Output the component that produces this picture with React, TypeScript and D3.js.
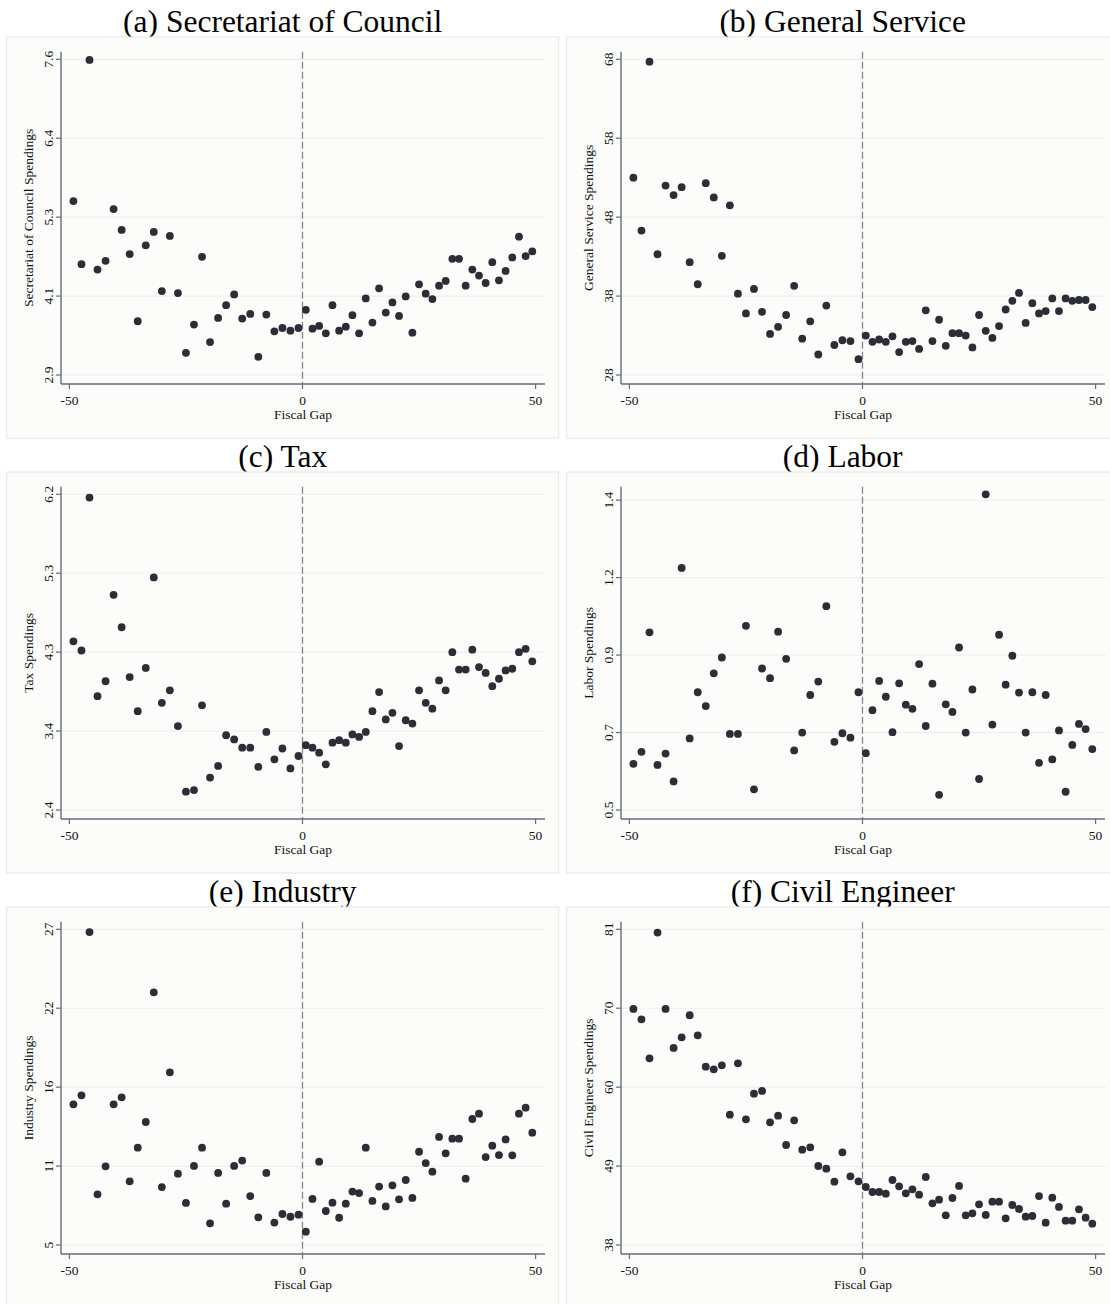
import React from "react";
import * as d3 from "d3";

// Bin centres of the fiscal gap (29 bins below the threshold, 35 above)
const binsBelow = [
  -49.14, -47.41, -45.69, -43.97, -42.24, -40.52, -38.79, -37.07, -35.34, -33.62,
  -31.9, -30.17, -28.45, -26.72, -25.0, -23.28, -21.55, -19.83, -18.1, -16.38,
  -14.66, -12.93, -11.21, -9.48, -7.76, -6.03, -4.31, -2.59, -0.86,
];
const binsAbove = [
  0.71, 2.14, 3.57, 5.0, 6.43, 7.86, 9.29, 10.71, 12.14, 13.57, 15.0, 16.43,
  17.86, 19.29, 20.71, 22.14, 23.57, 25.0, 26.43, 27.86, 29.29, 30.71, 32.14,
  33.57, 35.0, 36.43, 37.86, 39.29, 40.71, 42.14, 43.57, 45.0, 46.43, 47.86, 49.29,
];
const fiscalGap = [...binsBelow, ...binsAbove];

// Mean spendings per bin
const secretariatSpend = [
  5.49, 4.55, 7.59, 4.47, 4.6, 5.37, 5.06, 4.7, 3.7, 4.83, 5.03, 4.15, 4.97, 4.12, 3.23,
  3.65, 4.66, 3.39, 3.75, 3.94, 4.1, 3.74, 3.81, 3.17, 3.8, 3.55, 3.6, 3.56, 3.6,
  3.87, 3.59, 3.63, 3.52, 3.94, 3.56, 3.62, 3.79, 3.52, 4.04, 3.68, 4.19, 3.83, 3.98,
  3.78, 4.07, 3.53, 4.25, 4.11, 4.03, 4.23, 4.3, 4.63, 4.63, 4.23, 4.47, 4.38, 4.27,
  4.58, 4.31, 4.45, 4.65, 4.96, 4.67, 4.74,
];
const generalServiceSpend = [
  53.0, 46.3, 67.7, 43.3, 52.0, 50.8, 51.8, 42.3, 39.5, 52.3, 50.5, 43.1, 49.5, 38.3,
  35.8, 38.9, 36.0, 33.2, 34.1, 35.6, 39.3, 32.6, 34.8, 30.6, 36.8, 31.8, 32.4, 32.3, 30.0,
  33.0, 32.2, 32.5, 32.2, 32.9, 30.9, 32.2, 32.3, 31.3, 36.2, 32.3, 35.0, 31.7, 33.3,
  33.3, 33.0, 31.5, 35.6, 33.6, 32.7, 34.2, 36.3, 37.4, 38.4, 34.6, 37.1, 35.8, 36.1,
  37.7, 36.1, 37.7, 37.4, 37.5, 37.5, 36.6,
];
const taxSpend = [
  4.43, 4.32, 6.16, 3.77, 3.95, 4.99, 4.6, 4.0, 3.59, 4.11, 5.2, 3.69, 3.84, 3.41, 2.62,
  2.64, 3.66, 2.79, 2.93, 3.3, 3.25, 3.15, 3.15, 2.92, 3.34, 3.01, 3.14, 2.9, 3.05,
  3.18, 3.15, 3.09, 2.95, 3.21, 3.24, 3.21, 3.31, 3.28, 3.34, 3.59, 3.82, 3.49, 3.57,
  3.17, 3.48, 3.44, 3.84, 3.69, 3.62, 3.96, 3.84, 4.3, 4.09, 4.09, 4.33, 4.12, 4.05,
  3.89, 3.98, 4.08, 4.1, 4.3, 4.34, 4.19,
];
const laborSpend = [
  0.634, 0.669, 1.016, 0.631, 0.664, 0.583, 1.203, 0.708, 0.842, 0.802, 0.897, 0.943,
  0.721, 0.721, 1.035, 0.56, 0.911, 0.883, 1.018, 0.939, 0.673, 0.725, 0.834, 0.873,
  1.092, 0.698, 0.723, 0.71, 0.842,
  0.665, 0.79, 0.875, 0.829, 0.726, 0.868, 0.806, 0.794, 0.924, 0.744, 0.867, 0.544,
  0.807, 0.785, 0.972, 0.725, 0.85, 0.59, 1.417, 0.748, 1.009, 0.864, 0.948, 0.841,
  0.725, 0.842, 0.637, 0.834, 0.647, 0.731, 0.553, 0.689, 0.75, 0.735, 0.677,
];
const industrySpend = [
  14.8, 15.43, 26.81, 8.53, 10.48, 14.8, 15.29, 9.44, 11.78, 13.57, 22.61, 9.04, 17.03,
  9.97, 7.93, 10.51, 11.78, 6.51, 10.02, 7.88, 10.51, 10.88, 8.41, 6.93, 10.02, 6.56,
  7.16, 6.97, 7.11,
  5.93, 8.21, 10.81, 7.37, 7.95, 6.9, 7.88, 8.72, 8.62, 11.78, 8.07, 9.07, 7.69, 9.16,
  8.18, 9.53, 8.28, 11.5, 10.71, 10.11, 12.53, 11.39, 12.41, 12.41, 9.62, 13.78, 14.15,
  11.13, 11.92, 11.27, 12.36, 11.25, 14.15, 14.57, 12.83,
];
const civilEngineerSpend = [
  70.15, 68.74, 63.43, 80.55, 70.15, 64.84, 66.29, 69.29, 66.56, 62.29, 61.93, 62.47,
  55.75, 62.75, 55.12, 58.61, 58.98, 54.71, 55.62, 51.62, 54.98, 50.99, 51.3, 48.76,
  48.4, 46.63, 50.62, 47.35, 46.67,
  45.9, 45.22, 45.22, 44.99, 46.85, 45.99, 45.04, 45.58, 44.86, 47.26, 43.68, 44.18,
  42.04, 44.4, 46.04, 42.04, 42.31, 43.54, 42.09, 43.9, 43.9, 41.63, 43.45, 42.9,
  41.86, 41.95, 44.67, 41.04, 44.45, 43.18, 41.31, 41.31, 42.86, 41.72, 40.91,
];

// Axis ticks
const xTickValues = [-50, 0, 50];
const xTickLabels = ["-50", "0", "50"];

const secretariatTicks = [2.9, 4.075, 5.25, 6.425, 7.6];
const secretariatTickLabels = ["2.9", "4.1", "5.3", "6.4", "7.6"];
const generalServiceTicks = [28, 38, 48, 58, 68];
const generalServiceTickLabels = ["28", "38", "48", "58", "68"];
const taxTicks = [2.4, 3.35, 4.3, 5.25, 6.2];
const taxTickLabels = ["2.4", "3.4", "4.3", "5.3", "6.2"];
const laborTicks = [0.5, 0.725, 0.95, 1.175, 1.4];
const laborTickLabels = ["0.5", "0.7", "0.9", "1.2", "1.4"];
const industryTicks = [5, 10.5, 16, 21.5, 27];
const industryTickLabels = ["5", "11", "16", "22", "27"];
const civilEngineerTicks = [38, 48.75, 59.5, 70.25, 81];
const civilEngineerTickLabels = ["38", "49", "60", "70", "81"];

const titles = [
  "(a) Secretariat of Council",
  "(b) General Service",
  "(c) Tax",
  "(d) Labor",
  "(e) Industry",
  "(f) Civil Engineer",
];
const yTitles = [
  "Secretariat of Council Spendings",
  "General Service Spendings",
  "Tax Spendings",
  "Labor Spendings",
  "Industry Spendings",
  "Civil Engineer Spendings",
];
const xTitle = "Fiscal Gap";

const panels = [
  { values: secretariatSpend, ticks: secretariatTicks, labels: secretariatTickLabels },
  { values: generalServiceSpend, ticks: generalServiceTicks, labels: generalServiceTickLabels },
  { values: taxSpend, ticks: taxTicks, labels: taxTickLabels },
  { values: laborSpend, ticks: laborTicks, labels: laborTickLabels },
  { values: industrySpend, ticks: industryTicks, labels: industryTickLabels },
  { values: civilEngineerSpend, ticks: civilEngineerTicks, labels: civilEngineerTickLabels },
];

const FONT = "'Liberation Serif', 'Times New Roman', Times, serif";
const AXIS = "#676d7c";
const GRID = "#efefef";
const DOT = "#2b2e36";

// Panel geometry (relative to panel origin)
const COL_STEP = 560;
const ROW_STEP = 435;
const FRAME = { x0: 6.7, x1: 558.7, y0: 37, y1: 438 };
const PLOT = { left: 61, right: 545, top: 51.7, bottom: 384 };
const X_RANGE: [number, number] = [69.4, 535.6];
const Y_RANGE: [number, number] = [375, 59.3];

function Panel({ idx }: { idx: number }) {
  const p = panels[idx];
  const ox = (idx % 2) * COL_STEP;
  const oy = Math.floor(idx / 2) * ROW_STEP;
  const x = d3.scaleLinear().domain([-50, 50]).range(X_RANGE);
  const lo = p.ticks[0];
  const hi = Math.max(p.ticks[p.ticks.length - 1], d3.max(p.values) as number);
  const y = d3.scaleLinear().domain([lo, hi]).range(Y_RANGE);
  const midX = (FRAME.x0 + FRAME.x1) / 2;
  const midPlotX = (PLOT.left + PLOT.right) / 2;
  const midPlotY = (PLOT.top + PLOT.bottom) / 2;

  return (
    <g transform={`translate(${ox},${oy})`}>
      <text x={midX} y={32} textAnchor="middle" fontFamily={FONT} fontSize={31.5} fill="#000">
        {titles[idx]}
      </text>
      <rect
        x={FRAME.x0}
        y={FRAME.y0}
        width={FRAME.x1 - FRAME.x0}
        height={FRAME.y1 - FRAME.y0}
        fill="#fcfcfb"
        stroke="#e6e6e6"
        strokeWidth={1}
      />
      {/* horizontal grid */}
      {p.ticks.map((t, i) => (
        <line key={`g${i}`} x1={PLOT.left} x2={PLOT.right} y1={y(t)} y2={y(t)} stroke={GRID} strokeWidth={1.2} />
      ))}
      {/* threshold at zero */}
      <line
        x1={x(0)}
        x2={x(0)}
        y1={PLOT.top}
        y2={PLOT.bottom}
        stroke="#85868d"
        strokeWidth={1.3}
        strokeDasharray="7,3"
      />
      {/* binned means */}
      {fiscalGap.map((g, i) => (
        <circle key={`d${i}`} cx={x(g)} cy={y(p.values[i])} r={3.9} fill={DOT} />
      ))}
      {/* axes */}
      <line x1={PLOT.left} x2={PLOT.left} y1={PLOT.top} y2={PLOT.bottom} stroke={AXIS} strokeWidth={1.4} />
      <line x1={PLOT.left} x2={PLOT.right} y1={PLOT.bottom} y2={PLOT.bottom} stroke={AXIS} strokeWidth={1.4} />
      {p.ticks.map((t, i) => (
        <g key={`yt${i}`}>
          <line x1={PLOT.left - 5} x2={PLOT.left} y1={y(t)} y2={y(t)} stroke={AXIS} strokeWidth={1.2} />
          <text
            transform={`translate(${PLOT.left - 8},${y(t)}) rotate(-90)`}
            textAnchor="middle"
            fontFamily={FONT}
            fontSize={13.5}
            fill="#111"
          >
            {p.labels[i]}
          </text>
        </g>
      ))}
      {xTickValues.map((t, i) => (
        <g key={`xt${i}`}>
          <line x1={x(t)} x2={x(t)} y1={PLOT.bottom} y2={PLOT.bottom + 5} stroke={AXIS} strokeWidth={1.2} />
          <text x={x(t)} y={405} textAnchor="middle" fontFamily={FONT} fontSize={13.5} fill="#111">
            {xTickLabels[i]}
          </text>
        </g>
      ))}
      <text x={midPlotX} y={419} textAnchor="middle" fontFamily={FONT} fontSize={13.5} fill="#111">
        {xTitle}
      </text>
      <text
        transform={`translate(33,${midPlotY}) rotate(-90)`}
        textAnchor="middle"
        fontFamily={FONT}
        fontSize={13.5}
        fill="#111"
      >
        {yTitles[idx]}
      </text>
    </g>
  );
}

export default function App() {
  return (
    <svg
      width={1110}
      height={1304}
      style={{ position: "absolute", left: 0, top: 0, display: "block", background: "#fff" }}
    >
      <rect x={0} y={0} width={1110} height={1304} fill="#fff" />
      {panels.map((_, i) => (
        <Panel key={i} idx={i} />
      ))}
    </svg>
  );
}
